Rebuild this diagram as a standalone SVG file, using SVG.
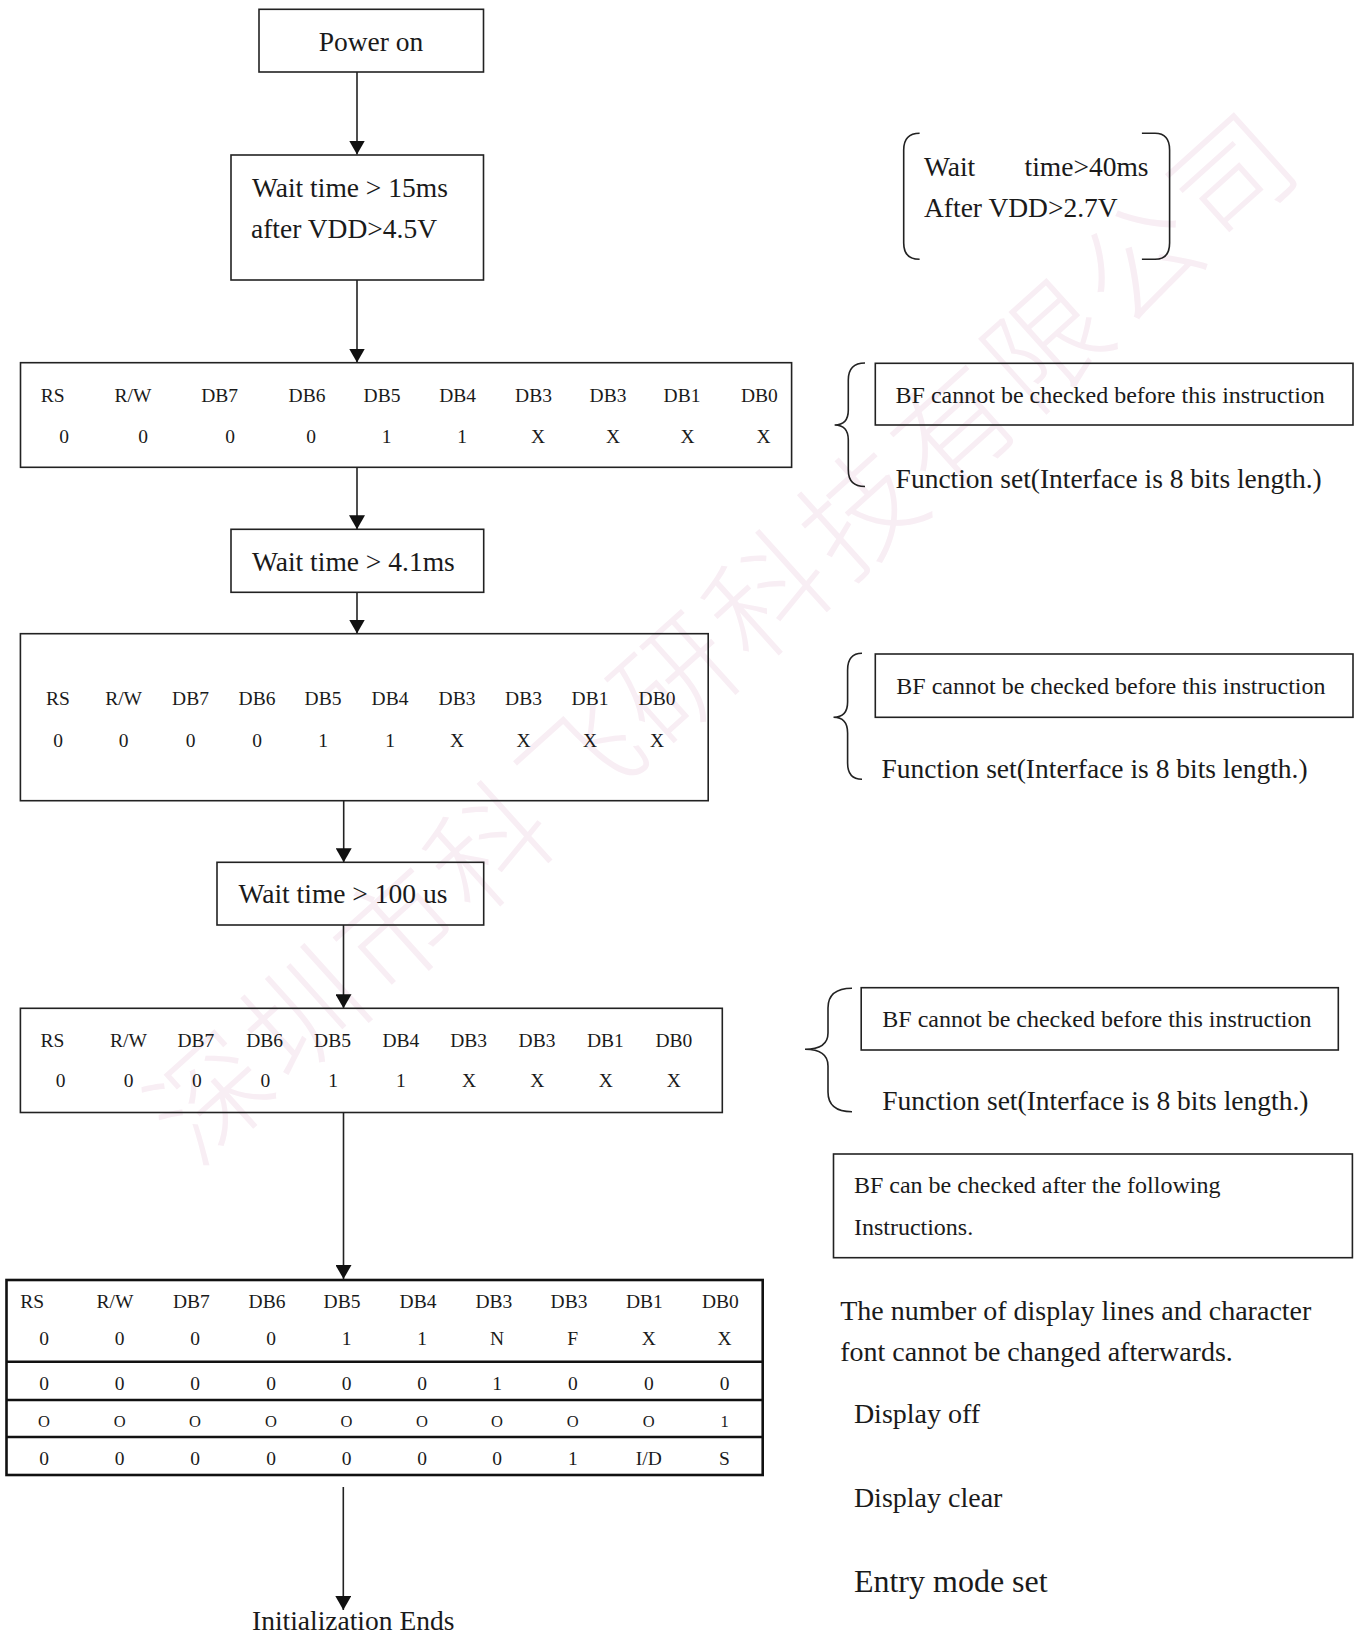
<svg xmlns="http://www.w3.org/2000/svg" width="1359" height="1635" viewBox="0 0 1359 1635">
<style>
.t{font-family:"Liberation Serif","Times New Roman",serif;fill:#1a1a1a}
.big{font-size:27.5px}
.note{font-size:24px}
.tb{font-size:19.5px;text-anchor:middle}
.box{fill:none;stroke:#222;stroke-width:1.6}
.tbl4{fill:none;stroke:#111;stroke-width:2.6}
.br{fill:none;stroke:#222;stroke-width:1.6}
.conn{stroke:#222;stroke-width:1.6;fill:none}
.wm{font-family:"Noto Sans CJK SC",sans-serif;font-size:118px;font-weight:300;fill:#f8eef4;letter-spacing:7px;text-anchor:middle}
</style>
<defs>
<marker id="ah" viewBox="0 0 14 16" markerWidth="14" markerHeight="16" refX="14" refY="8" orient="auto" markerUnits="userSpaceOnUse">
<path d="M0,0 L14,8 L0,16 z" fill="#111"/>
</marker>
</defs>
<rect width="1359" height="1635" fill="#fff"/>
<g id="watermark" transform="translate(725,636) rotate(-42)">
<text class="wm" x="0" y="42">深圳市科飞研科技有限公司</text>
</g>

<g id="connectors">
<line class="conn" x1="357" y1="72" x2="357" y2="154.5" marker-end="url(#ah)"/>
<line class="conn" x1="357" y1="280" x2="357" y2="362.5" marker-end="url(#ah)"/>
<line class="conn" x1="357" y1="467.3" x2="357" y2="529.3" marker-end="url(#ah)"/>
<line class="conn" x1="357" y1="592.3" x2="357" y2="633.5" marker-end="url(#ah)"/>
<line class="conn" x1="343.7" y1="800.7" x2="343.7" y2="862.3" marker-end="url(#ah)"/>
<line class="conn" x1="343.5" y1="925" x2="343.5" y2="1008.3" marker-end="url(#ah)"/>
<line class="conn" x1="343.5" y1="1112.5" x2="343.5" y2="1279" marker-end="url(#ah)"/>
<line class="conn" x1="343.3" y1="1487" x2="343.3" y2="1610" marker-end="url(#ah)"/>
</g>

<g id="power-on">
<rect class="box" x="259" y="9.3" width="224.5" height="62.7"/>
<text class="t big" x="371" y="50.7" text-anchor="middle">Power on</text>
</g>

<g id="wait-15ms">
<rect class="box" x="231" y="155" width="252.5" height="125"/>
<text class="t big" x="252" y="197">Wait time &gt; 15ms</text>
<text class="t big" x="251" y="238">after VDD&gt;4.5V</text>
</g>

<g id="function-set-1">
<rect class="box" x="20.5" y="362.7" width="771.1" height="104.6"/>
<g class="t tb">
<text x="52.7" y="401.7">RS</text><text x="133" y="401.7">R/W</text><text x="219.6" y="401.7">DB7</text><text x="307" y="401.7">DB6</text><text x="382" y="401.7">DB5</text><text x="457.6" y="401.7">DB4</text><text x="533.5" y="401.7">DB3</text><text x="608" y="401.7">DB3</text><text x="682" y="401.7">DB1</text><text x="759.3" y="401.7">DB0</text>
<text x="64" y="443">0</text><text x="143" y="443">0</text><text x="230" y="443">0</text><text x="311" y="443">0</text><text x="386.6" y="443">1</text><text x="462" y="443">1</text><text x="538" y="443">X</text><text x="613" y="443">X</text><text x="687.5" y="443">X</text><text x="763.5" y="443">X</text>
</g>
</g>

<g id="wait-4-1ms">
<rect class="box" x="231" y="529.3" width="252.7" height="63"/>
<text class="t big" x="252" y="570.7">Wait time &gt; 4.1ms</text>
</g>

<g id="function-set-2">
<rect class="box" x="20.4" y="633.7" width="687.8" height="167"/>
<g class="t tb">
<text x="58" y="705">RS</text><text x="123.6" y="705">R/W</text><text x="190.5" y="705">DB7</text><text x="257" y="705">DB6</text><text x="323" y="705">DB5</text><text x="390" y="705">DB4</text><text x="457" y="705">DB3</text><text x="523.5" y="705">DB3</text><text x="590" y="705">DB1</text><text x="657" y="705">DB0</text>
<text x="58" y="746.7">0</text><text x="123.6" y="746.7">0</text><text x="190.5" y="746.7">0</text><text x="257" y="746.7">0</text><text x="323" y="746.7">1</text><text x="390" y="746.7">1</text><text x="457" y="746.7">X</text><text x="523.5" y="746.7">X</text><text x="590" y="746.7">X</text><text x="657" y="746.7">X</text>
</g>
</g>

<g id="wait-100us">
<rect class="box" x="217" y="862.3" width="266.7" height="62.7"/>
<text class="t big" x="238.5" y="903.3">Wait time &gt; 100 us</text>
</g>

<g id="function-set-3">
<rect class="box" x="20.4" y="1008.3" width="701.9" height="104.2"/>
<g class="t tb">
<text x="52.4" y="1046.7">RS</text><text x="128.5" y="1046.7">R/W</text><text x="195.8" y="1046.7">DB7</text><text x="264.7" y="1046.7">DB6</text><text x="332.5" y="1046.7">DB5</text><text x="400.8" y="1046.7">DB4</text><text x="468.7" y="1046.7">DB3</text><text x="537" y="1046.7">DB3</text><text x="605.3" y="1046.7">DB1</text><text x="673.8" y="1046.7">DB0</text>
<text x="60.6" y="1087.3">0</text><text x="128.5" y="1087.3">0</text><text x="196.8" y="1087.3">0</text><text x="265.3" y="1087.3">0</text><text x="333.2" y="1087.3">1</text><text x="400.8" y="1087.3">1</text><text x="469" y="1087.3">X</text><text x="537.3" y="1087.3">X</text><text x="605.7" y="1087.3">X</text><text x="673.8" y="1087.3">X</text>
</g>
</g>

<g id="instruction-table">
<rect class="tbl4" x="6.5" y="1280" width="756.2" height="195"/>
<line class="tbl4" x1="6.5" y1="1361.7" x2="762.7" y2="1361.7"/>
<line class="tbl4" x1="6.5" y1="1400" x2="762.7" y2="1400"/>
<line class="tbl4" x1="6.5" y1="1437" x2="762.7" y2="1437"/>
<g class="t tb">
<text x="32.3" y="1308.3">RS</text><text x="115" y="1308.3">R/W</text><text x="191.3" y="1308.3">DB7</text><text x="267" y="1308.3">DB6</text><text x="342" y="1308.3">DB5</text><text x="418" y="1308.3">DB4</text><text x="493.8" y="1308.3">DB3</text><text x="569" y="1308.3">DB3</text><text x="644.3" y="1308.3">DB1</text><text x="720.3" y="1308.3">DB0</text>
<text x="44" y="1345">0</text><text x="119.7" y="1345">0</text><text x="195" y="1345">0</text><text x="271" y="1345">0</text><text x="346.5" y="1345">1</text><text x="422" y="1345">1</text><text x="497" y="1345">N</text><text x="572.8" y="1345">F</text><text x="648.8" y="1345">X</text><text x="724.5" y="1345">X</text>
<text x="44" y="1390">0</text><text x="119.7" y="1390">0</text><text x="195" y="1390">0</text><text x="271" y="1390">0</text><text x="346.5" y="1390">0</text><text x="422" y="1390">0</text><text x="497" y="1390">1</text><text x="572.8" y="1390">0</text><text x="648.8" y="1390">0</text><text x="724.5" y="1390">0</text>
<g style="font-size:16.5px">
<text x="44" y="1426.7">O</text><text x="119.7" y="1426.7">O</text><text x="195" y="1426.7">O</text><text x="271" y="1426.7">O</text><text x="346.5" y="1426.7">O</text><text x="422" y="1426.7">O</text><text x="497" y="1426.7">O</text><text x="572.8" y="1426.7">O</text><text x="648.8" y="1426.7">O</text><text x="724.5" y="1426.7">1</text>
</g>
<text x="44" y="1465">0</text><text x="119.7" y="1465">0</text><text x="195" y="1465">0</text><text x="271" y="1465">0</text><text x="346.5" y="1465">0</text><text x="422" y="1465">0</text><text x="497" y="1465">0</text><text x="572.8" y="1465">1</text><text x="648.8" y="1465">I/D</text><text x="724.5" y="1465">S</text>
</g>
</g>

<g id="init-ends">
<text class="t big" x="252" y="1630">Initialization Ends</text>
</g>

<g id="note-wait-40ms">
<path class="br" d="M919.6,133.3 Q903.7,133.3 903.7,150 L903.7,243 Q903.7,259.3 919.6,259.3"/>
<path class="br" d="M1141.9,133.3 L1155,133.3 Q1169.6,133.3 1169.6,150 L1169.6,243 Q1169.6,259.3 1155,259.3 L1141.9,259.3"/>
<text class="t big" y="176"><tspan x="924">Wait</tspan><tspan x="1024.5">time&gt;40ms</tspan></text>
<text class="t big" x="924" y="217.3">After VDD&gt;2.7V</text>
</g>

<g id="note-1">
<path class="br" d="M865,363 Q848.3,363 848.3,380 L848.3,410 Q848.3,425 834.6,425 Q848.3,425 848.3,440 L848.3,470 Q848.3,486.5 865,486.5"/>
<rect class="box" x="875.3" y="363.3" width="477.7" height="61.7"/>
<text class="t note" x="895.6" y="403.3">BF cannot be checked before this instruction</text>
<text class="t big" x="895.6" y="488.3">Function set(Interface is 8 bits length.)</text>
</g>

<g id="note-2">
<path class="br" d="M862,653.3 Q847.6,653.3 847.6,670 L847.6,702 Q847.6,717.3 833.5,717.3 Q847.6,717.3 847.6,733 L847.6,763 Q847.6,779.3 862,779.3"/>
<rect class="box" x="875.3" y="654" width="477.7" height="63.3"/>
<text class="t note" x="896.3" y="694">BF cannot be checked before this instruction</text>
<text class="t big" x="881.5" y="777.7">Function set(Interface is 8 bits length.)</text>
</g>

<g id="note-3">
<path class="br" d="M852,988.3 Q828,988.3 828,1008 L828,1033 Q828,1049.3 805,1049.3 Q828,1049.3 828,1066 L828,1092 Q828,1111.7 852,1111.7"/>
<rect class="box" x="861.2" y="987.7" width="477.1" height="62.3"/>
<text class="t note" x="882.3" y="1026.7">BF cannot be checked before this instruction</text>
<text class="t big" x="882.3" y="1110">Function set(Interface is 8 bits length.)</text>
</g>

<g id="note-bf-after">
<rect class="box" x="833.5" y="1154" width="518.9" height="103.7"/>
<text class="t note" x="853.9" y="1193.3" fill="#333">BF can be checked after the following</text>
<text class="t note" x="853.9" y="1235" fill="#333">Instructions.</text>
</g>

<g id="note-lines">
<text class="t" style="font-size:28px" x="840.2" y="1320">The number of display lines and character</text>
<text class="t" style="font-size:28px" x="840.2" y="1360.7">font cannot be changed afterwards.</text>
<text class="t" style="font-size:28px" x="853.9" y="1423.3">Display off</text>
<text class="t" style="font-size:28px" x="853.9" y="1506.7">Display clear</text>
<text class="t" style="font-size:32px" x="853.9" y="1591.7">Entry mode set</text>
</g>
</svg>
